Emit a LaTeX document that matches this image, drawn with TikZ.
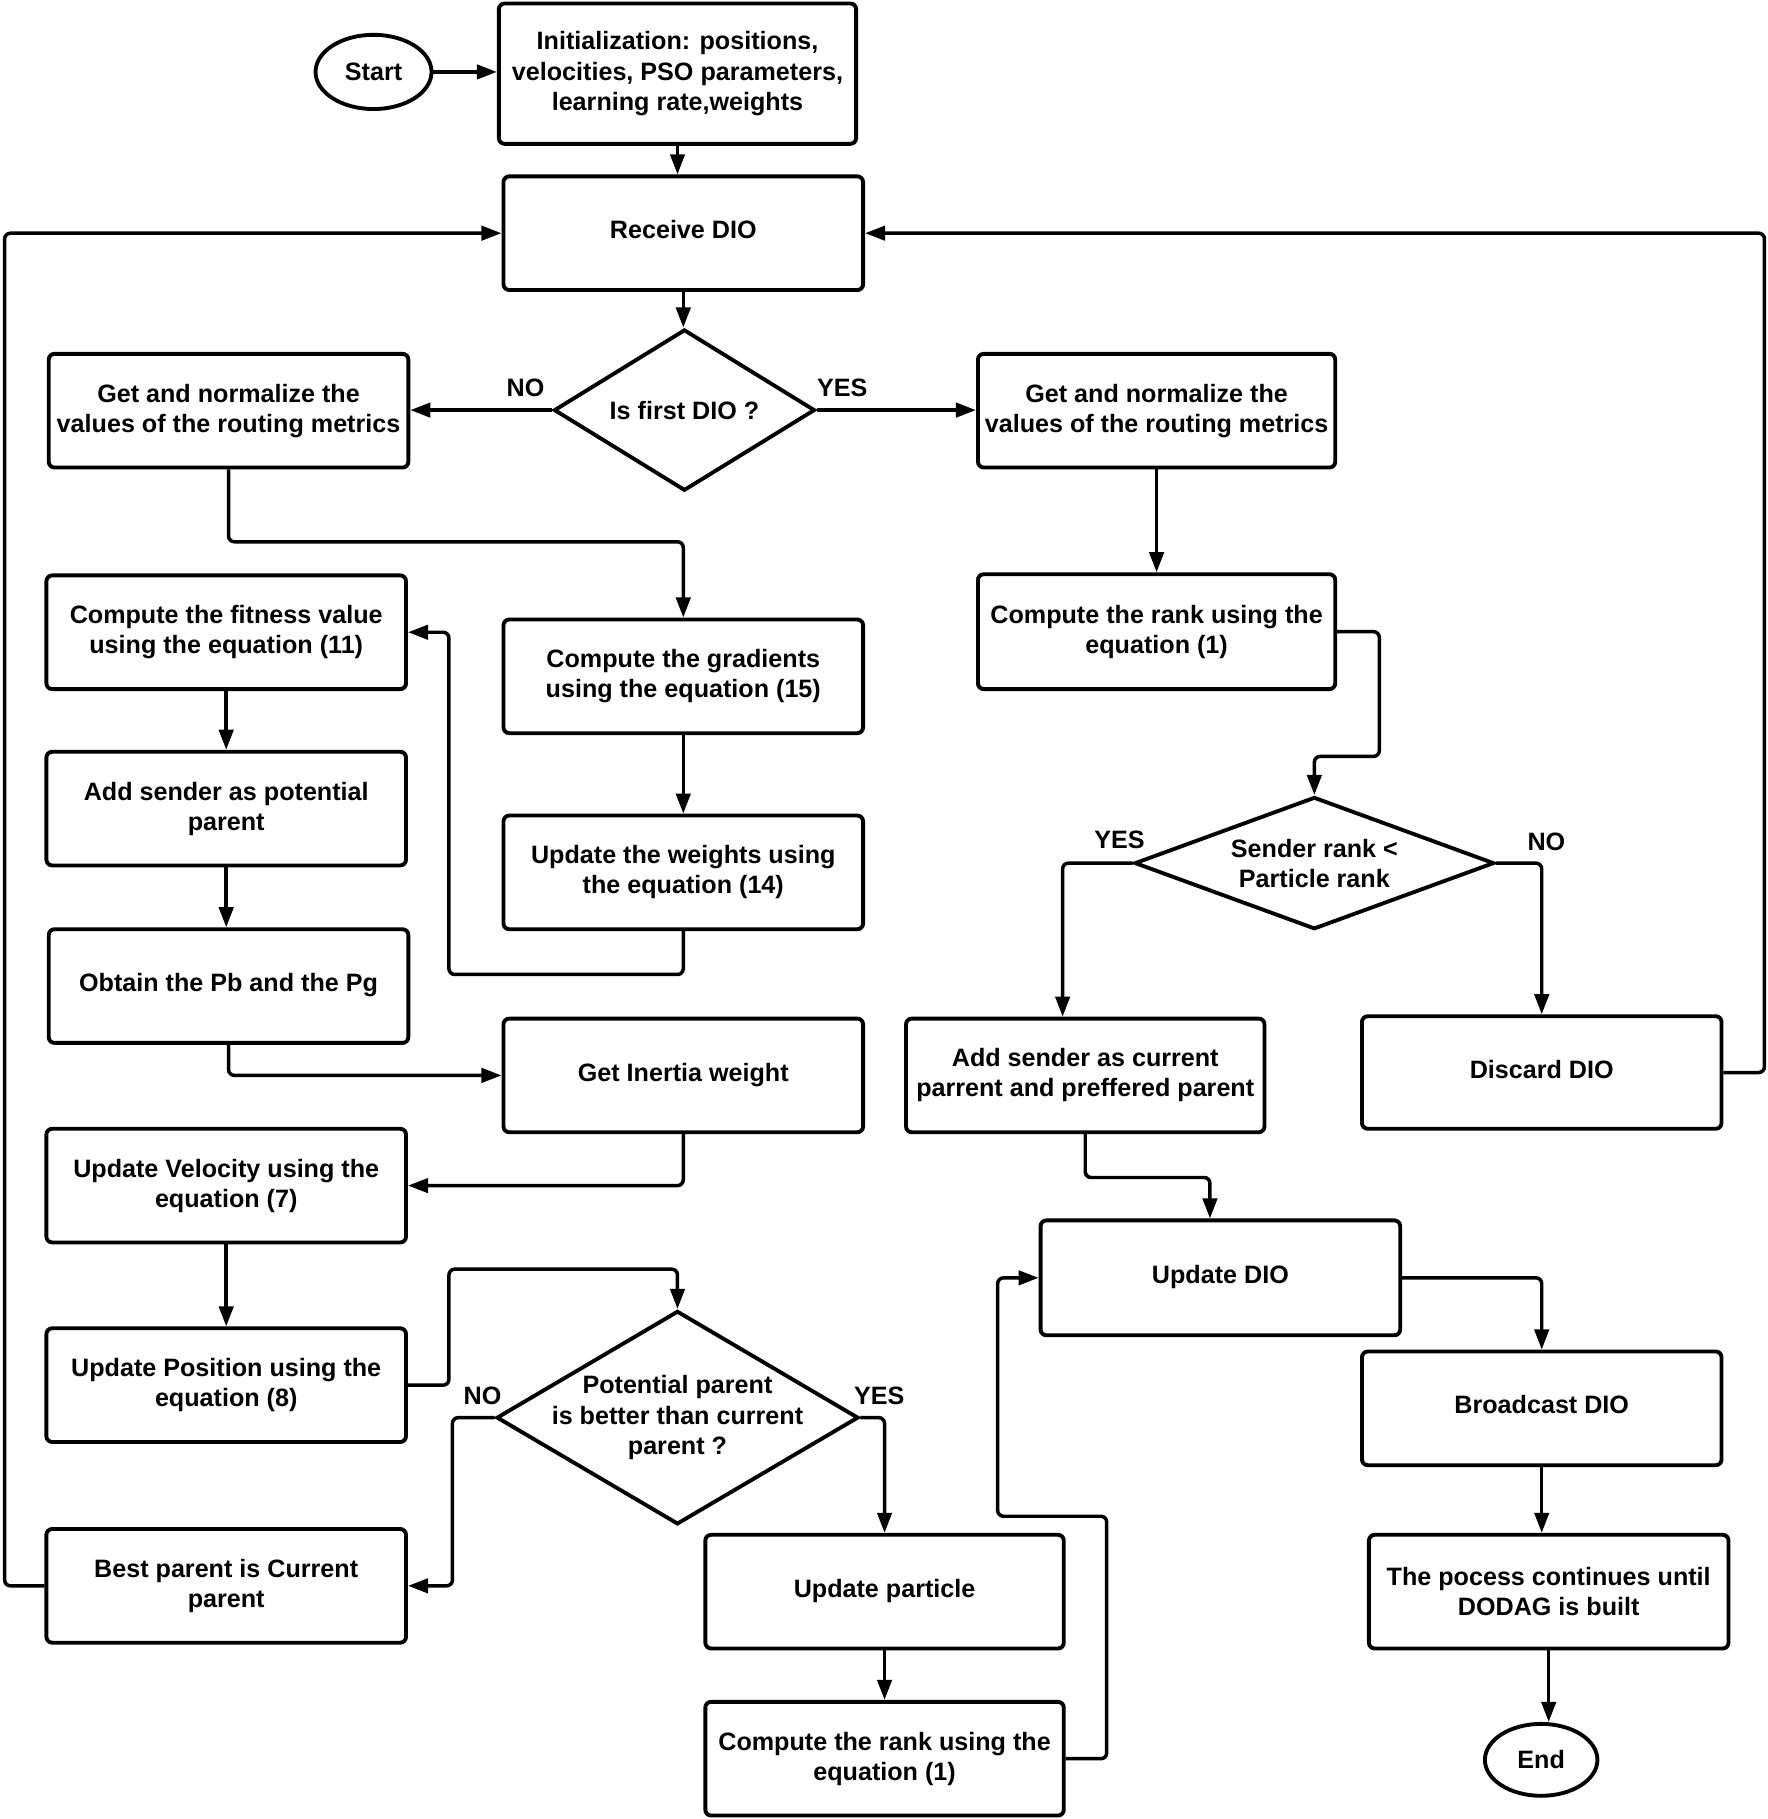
\documentclass[tikz,border=0pt]{standalone}
\usepackage{fontspec}
\setmainfont{Liberation Sans}
\usetikzlibrary{arrows.meta,shapes.geometric}
\begin{document}
\begin{tikzpicture}[x=0.3pt,y=-0.3pt,
  every node/.style={font=\fontsize{6.5}{7.8}\selectfont\bfseries, align=center},
  box/.style={draw, line width=1pt, rounded corners=1.5pt, minimum width=93pt, minimum height=29.4pt, inner sep=0pt},
  one/.style={text height=5pt, text depth=2.1pt},
  term/.style={draw, line width=1pt, ellipse, inner sep=0pt},
  dia/.style={draw, line width=1pt, diamond, inner sep=0pt},
  arr/.style={line width=0.9pt, rounded corners=1.5pt, -{Triangle[length=5.2pt,width=3.7pt]}},
  lbl/.style={inner sep=0pt}
]
\useasboundingbox (0,0) rectangle (1524,1568);

% terminals
\node[term, minimum width=30pt, minimum height=19.2pt] (start) at (322,62) {Start};
\node[term, minimum width=29.1pt, minimum height=18.6pt] (End) at (1328.5,1517) {End};

% boxes
\node[box, minimum width=92.4pt, minimum height=36.3pt] (init) at (584,63.5) {Initialization: positions,\\velocities, PSO parameters,\\learning rate,weights};
\node[box, one] (recv) at (589,201) {Receive DIO};
\node[box] (gnL) at (197,354) {Get and normalize the\\values of the routing metrics};
\node[box, minimum width=92.4pt] (gnR) at (997,354) {Get and normalize the\\values of the routing metrics};
\node[box] (grad) at (589,583) {Compute the gradients\\using the equation (15)};
\node[box] (wts) at (589,752) {Update the weights using\\the equation (14)};
\node[box] (fit) at (195,545) {Compute the fitness value\\using the equation (11)};
\node[box] (pot) at (195,697) {Add sender as potential\\parent};
\node[box, one] (obt) at (197,850) {Obtain the Pb and the Pg};
\node[box, one] (inert) at (589,927) {Get Inertia weight};
\node[box] (vel) at (195,1022) {Update Velocity using the\\equation (7)};
\node[box] (pos) at (195,1194) {Update Position using the\\equation (8)};
\node[box] (best) at (195,1367) {Best parent is Current\\parent};
\node[box, one, minimum width=92.7pt] (upd) at (762.5,1372) {Update particle};
\node[box, minimum width=92.7pt] (rank2) at (762.5,1516) {Compute the rank using the\\equation (1)};
\node[box, minimum width=92.4pt, minimum height=29.7pt] (rank1) at (997,544.5) {Compute the rank using the\\equation (1)};
\node[box, minimum width=92.7pt] (addc) at (935.5,927) {Add sender as current\\parrent and preffered parent};
\node[box, one, minimum height=29.1pt] (disc) at (1329,924.5) {Discard DIO};
\node[box, one, minimum height=29.7pt] (udio) at (1052,1101.5) {Update DIO};
\node[box, one] (bcast) at (1329,1214) {Broadcast DIO};
\node[box] (proc) at (1335,1372) {The pocess continues until\\DODAG is built};

% decisions
\node[dia, minimum width=67.5pt, minimum height=41.7pt] (d1) at (590,353.5) {};
\node at (d1) {Is first DIO ?};
\node[dia, minimum width=93.6pt, minimum height=55.2pt] (d2) at (584,1222) {};
\node at (d2) {Potential parent\\is better than current\\parent ?};
\node[dia, minimum width=93pt, minimum height=34.2pt] (d3) at (1133,744) {};
\node at (d3) {Sender rank <\\Particle rank};

% labels
\node[lbl] (noA) at (453,334) {NO};
\node[lbl] (yesA) at (726,334) {YES};
\node[lbl] (noB) at (416,1203) {NO};
\node[lbl] (yesB) at (758,1203) {YES};
\node[lbl] (yesC) at (965,724) {YES};
\node[lbl] (noC) at (1333,726) {NO};

% connectors
\draw[arr] (start.east) -- (start.east -| init.west);
\draw[arr] (init.south) -- (init.south |- recv.north);
\draw[arr] (recv.south) -- (recv.south |- d1.north);
\draw[arr] (d1.west) -- (d1.west -| gnL.east);
\draw[arr] (d1.east) -- (d1.east -| gnR.west);
\draw[arr] (gnL.south) -- (gnL.south |- 0,467) -| (grad.north);
\draw[arr] (grad.south) -- (wts.north);
\draw[arr] (wts.south) |- (387,840) |- (fit.east);
\draw[arr] (fit.south) -- (pot.north);
\draw[arr] (pot.south) -- (pot.south |- obt.north);
\draw[arr] (obt.south) |- (inert.west);
\draw[arr] (inert.south) |- (vel.east);
\draw[arr] (vel.south) -- (pos.north);
\draw[arr] (pos.east) -| (387,1094) -| (d2.north);
\draw[arr] (d2.west) -- (d2.west -| 390,0) |- (best.east);
\draw[arr] (best.west) -- (best.west -| 4,0) |- (recv.west);
\draw[arr] (d2.east) -| (upd.north);
\draw[arr] (upd.south) -- (rank2.north);
\draw[arr] (rank2.east) -- (rank2.east -| 954,0) |- (860,1307) |- (udio.west);
\draw[arr] (gnR.south) -- (rank1.north);
\draw[arr] (rank1.east) -| (1189,652) -| (d3.north);
\draw[arr] (d3.west) -- (d3.west -| 916,0) -- (916,0 |- addc.north);
\draw[arr] (d3.east) -| (disc.north);
\draw[arr] (disc.east) -- (disc.east -| 1521,0) |- (recv.east);
\draw[arr] (addc.south) -- (addc.south |- 0,1015) -| (1043,0 |- udio.north);
\draw[arr] (udio.east) -| (bcast.north);
\draw[arr] (bcast.south) -- (bcast.south |- proc.north);
\draw[arr] (proc.south) -- (proc.south |- End.north);
\end{tikzpicture}
\end{document}
